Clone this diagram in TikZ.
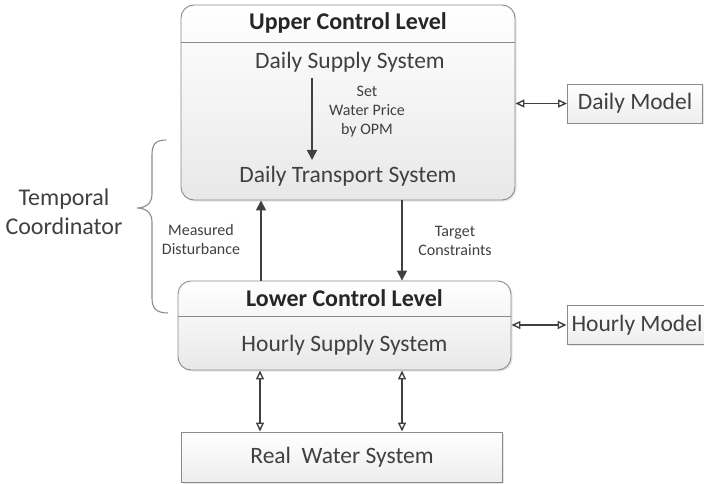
\documentclass[tikz,border=0pt]{standalone}
\usepackage{fontspec}
\setmainfont{Carlito}
\usetikzlibrary{arrows.meta,shadows,positioning,calc}
\definecolor{linegray}{HTML}{8A8A8A}
\definecolor{textgray}{HTML}{404040}
\tikzset{
    levelbox/.style={draw=linegray, line width=0.9pt, rounded corners=13pt, top color=white, bottom color=black!9,
        drop shadow={shadow xshift=1.5pt, shadow yshift=-1.5pt, opacity=0.2}},
    modelbox/.style={draw=linegray, line width=0.9pt, top color=white, bottom color=black!7,
        drop shadow={shadow xshift=1.5pt, shadow yshift=-1.5pt, opacity=0.2}},
    title/.style={font=\fontsize{24}{28}\selectfont\bfseries, text=black!85},
    label/.style={font=\fontsize{23.5}{28}\selectfont, text=textgray},
    small/.style={font=\fontsize{16}{19}\selectfont, text=textgray, align=center},
    flow/.style={-{Triangle[length=10pt, width=10pt]}, line width=1.7pt, textgray},
    link/.style={{Triangle[open, length=9pt, width=8pt]}-{Triangle[open, length=9pt, width=8pt]}, line width=1.4pt, textgray}
}
\begin{document}
\begin{tikzpicture}[x=1pt, y=-1pt]
    \useasboundingbox (0,0) rectangle (704,484);
    % levels
    \node[levelbox, minimum width=334pt, minimum height=195pt] (upper) at (348,102.5) {};
    \node[levelbox, minimum width=333pt, minimum height=89pt] (lower) at (344.5,325.5) {};
    \draw[linegray, line width=0.9pt] (upper.west |- 0,42) -- (upper.east |- 0,42);
    \draw[linegray, line width=0.9pt] (lower.west |- 0,316) -- (lower.east |- 0,316);
    \node[title] (uptitle) at (348,23) {Upper Control Level};
    \node[title] (lowtitle) at (344.5,298) {Lower Control Level};
    \node[label] (supply) at (350,62) {Daily Supply System};
    \node[label] (transport) at (348,176) {Daily Transport System};
    \node[label] (hourly) at (344.5,345) {Hourly Supply System};
    % models and plant
    \node[modelbox, minimum width=135pt, minimum height=39pt] (dmodel) at (635,103.5) {};
    \node[label] at (dmodel) {Daily Model};
    \node[modelbox, minimum width=140pt, minimum height=39pt] (hmodel) at (637,325) {};
    \node[label] at (hmodel) {Hourly Model};
    \node[modelbox, minimum width=321pt, minimum height=50pt] (real) at (342,457) {};
    \node[label] at (real) {Real\ \ Water System};
    % connectors
    \draw[flow] (312,78) coordinate (s1) -- (312,160) coordinate (s2);
    \node[small] (price) at (367,112) {Set\\Water Price\\by OPM};
    \draw[flow] (lower.north -| 261,0) -- (upper.south -| 261,0);
    \draw[flow] (upper.south -| 402,0) -- (lower.north -| 402,0);
    \node[small] (meas) at (201,240) {Measured\\Disturbance};
    \node[small] (target) at (455,241) {Target\\Constraints};
    \draw[link] (upper.east |- dmodel) -- (dmodel.west);
    \draw[link] (lower.east |- hmodel) -- (hmodel.west);
    \draw[link] (lower.south -| 260,0) -- (real.north -| 260,0);
    \draw[link] (lower.south -| 402,0) -- (real.north -| 402,0);
    % temporal coordinator
    \draw[linegray, line width=1.1pt] (166,140) .. controls (155,140) and (152,145) .. (152,155)
        -- (152,194) .. controls (152,203) and (146,208) .. (137,208)
        .. controls (146,208) and (152,213) .. (152,222)
        -- (152,298) .. controls (152,308) and (156,313) .. (168,313);
    \node[label, align=center, font=\fontsize{24}{29}\selectfont] (coord) at (64,212) {Temporal\\Coordinator};
\end{tikzpicture}
\end{document}
